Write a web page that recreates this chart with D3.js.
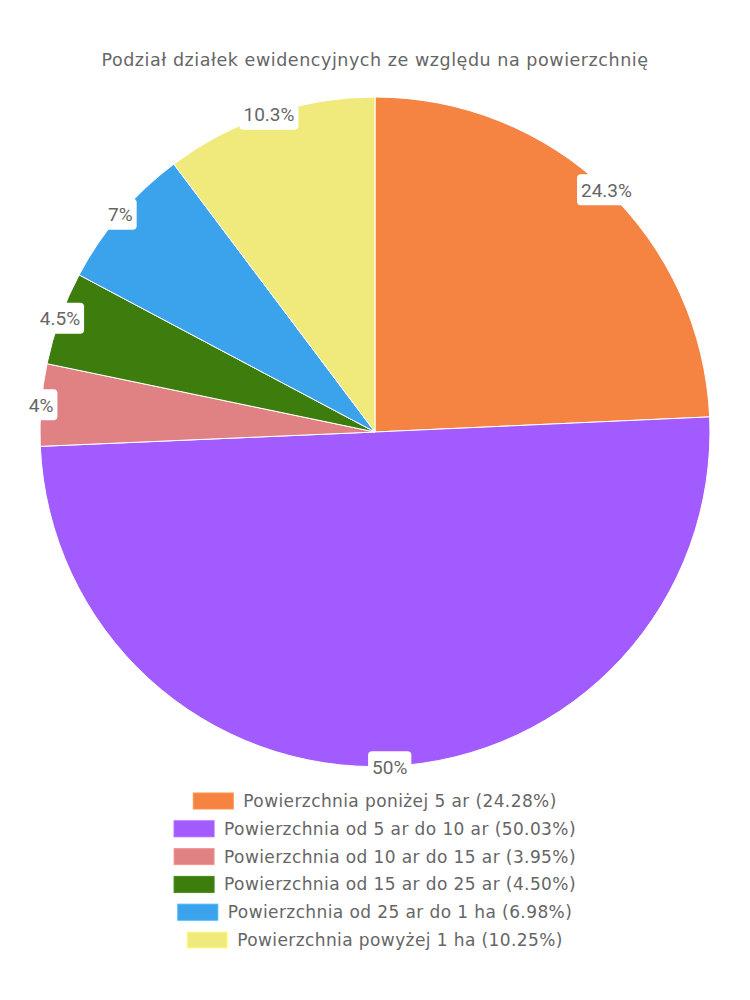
<!DOCTYPE html>
<html><head><meta charset="utf-8">
<script src="https://cdn.jsdelivr.net/npm/d3@7"></script>
<style>html,body{margin:0;padding:0;background:#fff;}</style>
</head><body>
<svg id="chart" width="750" height="1000"></svg>
<script>
const title = "Podział działek ewidencyjnych ze względu na powierzchnię";
const categories = [
  "Powierzchnia poniżej 5 ar",
  "Powierzchnia od 5 ar do 10 ar",
  "Powierzchnia od 10 ar do 15 ar",
  "Powierzchnia od 15 ar do 25 ar",
  "Powierzchnia od 25 ar do 1 ha",
  "Powierzchnia powyżej 1 ha"
];
const values = [24.28, 50.03, 3.95, 4.50, 6.98, 10.25];
const sliceLabels = ["24.3%", "50%", "4%", "4.5%", "7%", "10.3%"];
const legendLabels = ["(24.28%)", "(50.03%)", "(3.95%)", "(4.50%)", "(6.98%)", "(10.25%)"];
const colors = ["#F58442", "#A25BFF", "#E08283", "#3D7D0E", "#3BA3EC", "#EFEA7B"];

const svg = d3.select("#chart");
const cx = 375, cy = 432, R = 335;
const titleFont = "'DejaVu Sans', sans-serif";

svg.append("text").attr("x", 375).attr("y", 66).attr("text-anchor", "middle")
  .attr("font-family", titleFont).attr("font-size", 17.5).attr("letter-spacing", 0.55).attr("fill", "#666")
  .text(title);

const data = categories.map((c, i) => ({c, v: values[i], i}));
const pie = d3.pie().value(d => d.v).sort(null);
const arc = d3.arc().innerRadius(0).outerRadius(R);
const arcs = pie(data);
const g = svg.append("g").attr("transform", `translate(${cx},${cy})`);
g.selectAll("path").data(arcs).join("path")
  .attr("d", arc).attr("fill", d => colors[d.data.i])
  .attr("stroke", "#fff").attr("stroke-width", 1);

const lab = g.selectAll("g.lab").data(arcs).join("g").attr("class", "lab")
  .attr("transform", d => {
    const a = (d.startAngle + d.endAngle) / 2;
    return `translate(${R * Math.sin(a)},${-R * Math.cos(a)})`;
  });
lab.each(function(d) {
  const s = d3.select(this);
  const t = s.append("text").attr("text-anchor", "middle").attr("dy", "0.36em")
    .attr("font-family", "Roboto, sans-serif").attr("font-size", 19).attr("fill", "#666")
    .text(sliceLabels[d.data.i]);
  const w = t.node().getComputedTextLength();
  s.insert("rect", "text").attr("x", -w / 2 - 4).attr("y", -15.5).attr("width", w + 8).attr("height", 31)
    .attr("rx", 4).attr("fill", "#fff");
});

const legend = svg.append("g");
const rowY = d3.scaleLinear().domain([0, 5]).range([801, 940]);
data.forEach((d, i) => {
  const row = legend.append("g");
  const t = row.append("text").attr("font-family", titleFont).attr("font-size", 17)
    .attr("letter-spacing", 0.4)
    .attr("fill", "#666").attr("dy", "0.35em").attr("y", rowY(i))
    .text(d.c + " " + legendLabels[i]);
  const w = t.node().getComputedTextLength();
  const total = 40 + 10 + w;
  const x0 = 375 - total / 2;
  t.attr("x", x0 + 50);
  row.append("rect").attr("x", x0).attr("y", rowY(i) - 8).attr("width", 40).attr("height", 16)
    .attr("fill", colors[i]).attr("stroke", d3.color(colors[i]).brighter(0.3)).attr("stroke-width", 1);
});
</script>
</body></html>
